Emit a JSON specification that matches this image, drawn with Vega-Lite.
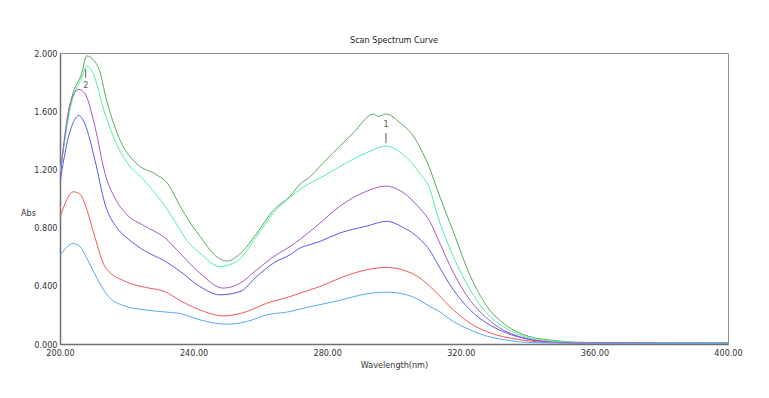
{
  "$schema": "https://vega.github.io/schema/vega-lite/v6.json",
  "width": 668,
  "height": 291,
  "autosize": {"type": "none"},
  "padding": {"left": 60, "top": 53, "right": 41, "bottom": 54},
  "background": "white",
  "title": {"text": "Scan Spectrum Curve", "fontSize": 9, "fontWeight": "normal", "font": "Liberation Sans Narrow, DejaVu Sans Condensed, sans-serif", "color": "#222222", "offset": 4},
  "config": {
    "view": {"stroke": "#909090", "strokeWidth": 1},
    "axis": {"labelFont": "Liberation Sans Narrow, DejaVu Sans Condensed, sans-serif", "labelFontSize": 9, "labelColor": "#333333", "labelFlush": false, "labelOverlap": false, "titleFont": "Liberation Sans Narrow, DejaVu Sans Condensed, sans-serif", "titleFontSize": 9, "titleFontWeight": "normal", "titleColor": "#333333", "grid": false, "ticks": false, "domainColor": "#707070", "domainWidth": 1.5}
  },
  "datasets": {
    "spec": [
      {"s":"G","wl":200,"a":1.17},{"s":"G","wl":203.5,"a":1.69},{"s":"G","wl":206.5,"a":1.86},{"s":"G","wl":208,"a":1.98},{"s":"G","wl":211.5,"a":1.9},{"s":"G","wl":214,"a":1.67},{"s":"G","wl":218,"a":1.4},{"s":"G","wl":223.4,"a":1.23},{"s":"G","wl":228.4,"a":1.17},{"s":"G","wl":232.3,"a":1.1},{"s":"G","wl":235.9,"a":0.95},{"s":"G","wl":237.4,"a":0.89},{"s":"G","wl":241.9,"a":0.74},{"s":"G","wl":246.9,"a":0.6},{"s":"G","wl":249.9,"a":0.57},{"s":"G","wl":253.9,"a":0.62},{"s":"G","wl":258.9,"a":0.76},{"s":"G","wl":263.9,"a":0.92},{"s":"G","wl":268.9,"a":1.016},{"s":"G","wl":271.9,"a":1.1},{"s":"G","wl":274.9,"a":1.15},{"s":"G","wl":277.8,"a":1.22},{"s":"G","wl":281.8,"a":1.315},{"s":"G","wl":287.8,"a":1.45},{"s":"G","wl":293.8,"a":1.58},{"s":"G","wl":295.3,"a":1.565},{"s":"G","wl":297.8,"a":1.58},{"s":"G","wl":301.8,"a":1.52},{"s":"G","wl":305.8,"a":1.43},{"s":"G","wl":307.8,"a":1.35},{"s":"G","wl":310.8,"a":1.2},{"s":"G","wl":312.8,"a":1.07},{"s":"G","wl":317.8,"a":0.77},{"s":"G","wl":322.8,"a":0.47},{"s":"G","wl":327.8,"a":0.26},{"s":"G","wl":332.7,"a":0.143},{"s":"G","wl":337.7,"a":0.074},{"s":"G","wl":342.7,"a":0.04},{"s":"G","wl":346.7,"a":0.028},{"s":"G","wl":355,"a":0.012},{"s":"G","wl":370,"a":0.008},{"s":"G","wl":400,"a":0.008},
      {"s":"M","wl":200,"a":1.18},{"s":"M","wl":203.5,"a":1.66},{"s":"M","wl":206.5,"a":1.83},{"s":"M","wl":208,"a":1.91},{"s":"M","wl":209.5,"a":1.88},{"s":"M","wl":213.5,"a":1.58},{"s":"M","wl":217,"a":1.37},{"s":"M","wl":220,"a":1.25},{"s":"M","wl":225.4,"a":1.12},{"s":"M","wl":230.4,"a":0.98},{"s":"M","wl":235.9,"a":0.786},{"s":"M","wl":237.4,"a":0.73},{"s":"M","wl":241.9,"a":0.625},{"s":"M","wl":247.9,"a":0.533},{"s":"M","wl":252.9,"a":0.567},{"s":"M","wl":258.9,"a":0.74},{"s":"M","wl":263.9,"a":0.9},{"s":"M","wl":268.9,"a":1.01},{"s":"M","wl":274.9,"a":1.106},{"s":"M","wl":277.8,"a":1.14},{"s":"M","wl":283.8,"a":1.22},{"s":"M","wl":291.8,"a":1.315},{"s":"M","wl":297.8,"a":1.36},{"s":"M","wl":302.8,"a":1.3},{"s":"M","wl":307.8,"a":1.17},{"s":"M","wl":310.8,"a":1.06},{"s":"M","wl":312.8,"a":0.9},{"s":"M","wl":317.8,"a":0.6},{"s":"M","wl":322.8,"a":0.372},{"s":"M","wl":327.8,"a":0.21},{"s":"M","wl":332.7,"a":0.12},{"s":"M","wl":337.7,"a":0.062},{"s":"M","wl":342.7,"a":0.03},{"s":"M","wl":347,"a":0.02},{"s":"M","wl":355,"a":0.01},{"s":"M","wl":370,"a":0.006},{"s":"M","wl":400,"a":0.006},
      {"s":"P","wl":200,"a":1.13},{"s":"P","wl":202.5,"a":1.6},{"s":"P","wl":204.5,"a":1.73},{"s":"P","wl":205.7,"a":1.75},{"s":"P","wl":207.5,"a":1.72},{"s":"P","wl":210.5,"a":1.49},{"s":"P","wl":213.5,"a":1.17},{"s":"P","wl":216.5,"a":1.0},{"s":"P","wl":220,"a":0.89},{"s":"P","wl":225.4,"a":0.81},{"s":"P","wl":231.4,"a":0.73},{"s":"P","wl":235.9,"a":0.625},{"s":"P","wl":241.9,"a":0.487},{"s":"P","wl":248.9,"a":0.384},{"s":"P","wl":253.9,"a":0.418},{"s":"P","wl":258.9,"a":0.51},{"s":"P","wl":263.9,"a":0.6},{"s":"P","wl":268.9,"a":0.67},{"s":"P","wl":271.9,"a":0.72},{"s":"P","wl":274.9,"a":0.775},{"s":"P","wl":277.8,"a":0.83},{"s":"P","wl":283.8,"a":0.947},{"s":"P","wl":291.8,"a":1.05},{"s":"P","wl":297.3,"a":1.085},{"s":"P","wl":302.8,"a":1.04},{"s":"P","wl":307.8,"a":0.93},{"s":"P","wl":310.8,"a":0.84},{"s":"P","wl":312.8,"a":0.74},{"s":"P","wl":317.8,"a":0.49},{"s":"P","wl":322.8,"a":0.3},{"s":"P","wl":327.8,"a":0.177},{"s":"P","wl":332.7,"a":0.097},{"s":"P","wl":337.7,"a":0.05},{"s":"P","wl":342.7,"a":0.025},{"s":"P","wl":348,"a":0.012},{"s":"P","wl":360,"a":0.006},{"s":"P","wl":400,"a":0.005},
      {"s":"B","wl":200,"a":1.11},{"s":"B","wl":202.5,"a":1.42},{"s":"B","wl":204.5,"a":1.545},{"s":"B","wl":205.7,"a":1.57},{"s":"B","wl":207.5,"a":1.51},{"s":"B","wl":210.5,"a":1.26},{"s":"B","wl":213.5,"a":0.96},{"s":"B","wl":217,"a":0.8},{"s":"B","wl":220,"a":0.73},{"s":"B","wl":225.4,"a":0.64},{"s":"B","wl":231.4,"a":0.57},{"s":"B","wl":235.9,"a":0.5},{"s":"B","wl":241.9,"a":0.395},{"s":"B","wl":247.9,"a":0.338},{"s":"B","wl":253.9,"a":0.36},{"s":"B","wl":258.9,"a":0.464},{"s":"B","wl":263.9,"a":0.556},{"s":"B","wl":268.9,"a":0.614},{"s":"B","wl":271.9,"a":0.66},{"s":"B","wl":274.9,"a":0.683},{"s":"B","wl":277.8,"a":0.705},{"s":"B","wl":283.8,"a":0.763},{"s":"B","wl":291.8,"a":0.81},{"s":"B","wl":297.8,"a":0.843},{"s":"B","wl":302.8,"a":0.8},{"s":"B","wl":307.8,"a":0.72},{"s":"B","wl":310.8,"a":0.64},{"s":"B","wl":312.8,"a":0.56},{"s":"B","wl":317.8,"a":0.372},{"s":"B","wl":322.8,"a":0.234},{"s":"B","wl":327.8,"a":0.143},{"s":"B","wl":332.7,"a":0.085},{"s":"B","wl":337.7,"a":0.046},{"s":"B","wl":342.7,"a":0.022},{"s":"B","wl":348,"a":0.01},{"s":"B","wl":360,"a":0.005},{"s":"B","wl":400,"a":0.004},
      {"s":"R","wl":200,"a":0.87},{"s":"R","wl":204,"a":1.046},{"s":"R","wl":206,"a":1.03},{"s":"R","wl":207.5,"a":0.96},{"s":"R","wl":210.5,"a":0.73},{"s":"R","wl":213.5,"a":0.53},{"s":"R","wl":219.5,"a":0.43},{"s":"R","wl":225.4,"a":0.39},{"s":"R","wl":231.4,"a":0.36},{"s":"R","wl":235.9,"a":0.3},{"s":"R","wl":241.9,"a":0.234},{"s":"R","wl":248.9,"a":0.193},{"s":"R","wl":255.9,"a":0.223},{"s":"R","wl":261.9,"a":0.28},{"s":"R","wl":268.9,"a":0.326},{"s":"R","wl":271.9,"a":0.35},{"s":"R","wl":274.9,"a":0.372},{"s":"R","wl":277.8,"a":0.395},{"s":"R","wl":283.8,"a":0.453},{"s":"R","wl":291.8,"a":0.51},{"s":"R","wl":297.8,"a":0.526},{"s":"R","wl":303.8,"a":0.5},{"s":"R","wl":307.8,"a":0.453},{"s":"R","wl":310.8,"a":0.395},{"s":"R","wl":312.8,"a":0.35},{"s":"R","wl":317.8,"a":0.234},{"s":"R","wl":322.8,"a":0.143},{"s":"R","wl":327.8,"a":0.085},{"s":"R","wl":332.7,"a":0.05},{"s":"R","wl":337.7,"a":0.03},{"s":"R","wl":343,"a":0.015},{"s":"R","wl":350,"a":0.008},{"s":"R","wl":400,"a":0.004},
      {"s":"L","wl":200,"a":0.61},{"s":"L","wl":204,"a":0.69},{"s":"L","wl":206,"a":0.67},{"s":"L","wl":208,"a":0.59},{"s":"L","wl":211,"a":0.455},{"s":"L","wl":214,"a":0.34},{"s":"L","wl":219.5,"a":0.26},{"s":"L","wl":225.4,"a":0.235},{"s":"L","wl":231.4,"a":0.22},{"s":"L","wl":235.9,"a":0.21},{"s":"L","wl":241.9,"a":0.166},{"s":"L","wl":249.9,"a":0.136},{"s":"L","wl":255.9,"a":0.154},{"s":"L","wl":261.9,"a":0.2},{"s":"L","wl":268.9,"a":0.223},{"s":"L","wl":271.9,"a":0.24},{"s":"L","wl":274.9,"a":0.257},{"s":"L","wl":277.8,"a":0.27},{"s":"L","wl":283.8,"a":0.3},{"s":"L","wl":291.8,"a":0.345},{"s":"L","wl":297.8,"a":0.356},{"s":"L","wl":303.8,"a":0.338},{"s":"L","wl":307.8,"a":0.3},{"s":"L","wl":310.8,"a":0.257},{"s":"L","wl":312.8,"a":0.234},{"s":"L","wl":317.8,"a":0.154},{"s":"L","wl":322.8,"a":0.097},{"s":"L","wl":327.8,"a":0.054},{"s":"L","wl":332.7,"a":0.03},{"s":"L","wl":337.7,"a":0.015},{"s":"L","wl":345,"a":0.007},{"s":"L","wl":400,"a":0.003}
    ],
    "ann": [
      {"label":"1","wl":297.6,"a":1.51,"top":1.45,"bottom":1.38},
      {"label":"2","wl":207.7,"a":1.78,"top":1.89,"bottom":1.83}
    ]
  },
  "layer": [
    {
      "data": {"name": "spec"},
      "mark": {"type": "line", "strokeWidth": 1, "interpolate": "monotone", "clip": true},
      "encoding": {
        "x": {"field": "wl", "type": "quantitative", "scale": {"domain": [200, 400], "nice": false, "zero": false},
              "axis": {"values": [200, 240, 280, 320, 360, 400], "format": ".2f", "title": "Wavelength(nm)", "labelPadding": 4, "titlePadding": 3}},
        "y": {"field": "a", "type": "quantitative", "scale": {"domain": [0, 2], "nice": false},
              "axis": {"values": [0, 0.4, 0.8, 1.2, 1.6, 2.0], "format": ".3f", "title": "Abs", "labelPadding": 3, "titleAngle": 0, "titleX": -32, "titleY": 159, "titleAlign": "center", "titleBaseline": "middle"}},
        "color": {"field": "s", "type": "nominal", "legend": null,
                  "scale": {"domain": ["L", "R", "B", "P", "M", "G"], "range": ["#5aa8f5", "#f05858", "#5858f0", "#a858c0", "#50f0a8", "#5aa85a"]}},
        "order": {"field": "wl", "type": "quantitative"}
      }
    },
    {
      "data": {"name": "ann"},
      "mark": {"type": "rule", "color": "#606060", "strokeWidth": 1},
      "encoding": {
        "x": {"field": "wl", "type": "quantitative"},
        "y": {"field": "top", "type": "quantitative"},
        "y2": {"field": "bottom"}
      }
    },
    {
      "data": {"name": "ann"},
      "mark": {"type": "text", "color": "#606060", "fontSize": 9, "font": "Liberation Sans Narrow, DejaVu Sans Condensed, sans-serif", "baseline": "middle", "align": "center"},
      "encoding": {
        "x": {"field": "wl", "type": "quantitative"},
        "y": {"field": "a", "type": "quantitative"},
        "text": {"field": "label"}
      }
    }
  ]
}
